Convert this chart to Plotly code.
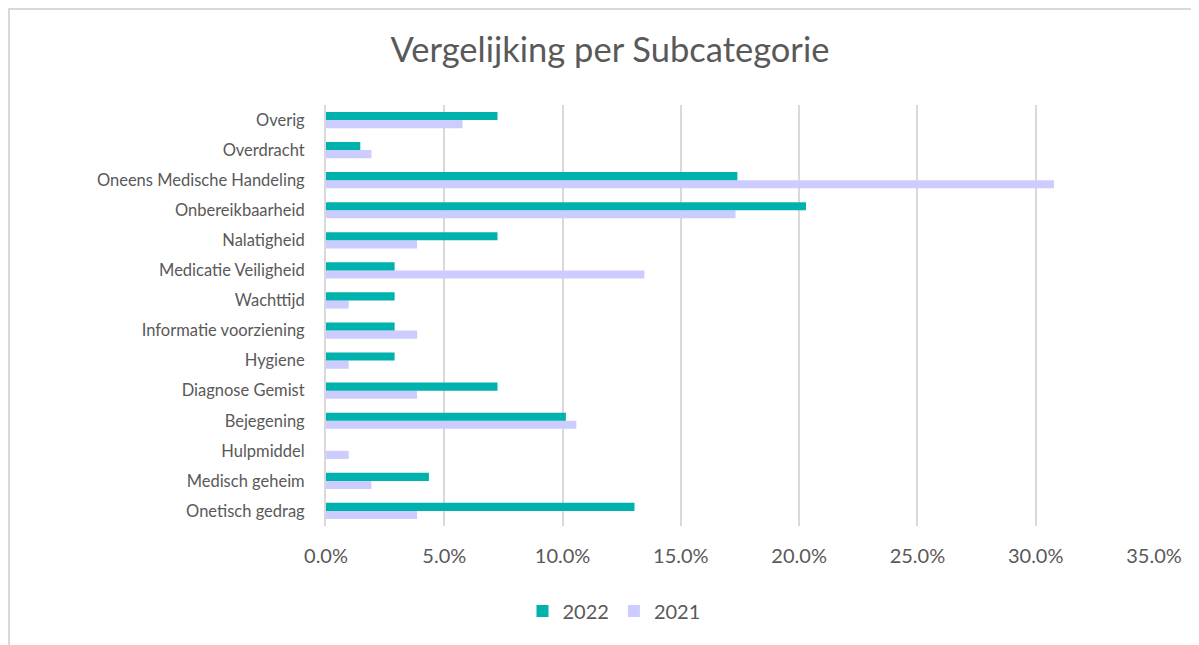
import plotly.graph_objects as go

# Categories listed bottom-to-top (as drawn on the chart)
categories = [
    "Onetisch gedrag", "Medisch geheim", "Hulpmiddel", "Bejegening",
    "Diagnose Gemist", "Hygiene", "Informatie voorziening", "Wachttijd",
    "Medicatie Veiligheid", "Nalatigheid", "Onbereikbaarheid",
    "Oneens Medische Handeling", "Overdracht", "Overig",
]
values_2022 = [13.04, 4.35, 0.0, 10.14, 7.25, 2.90, 2.90, 2.90, 2.90, 7.25, 20.29, 17.39, 1.45, 7.25]
values_2021 = [3.85, 1.92, 0.96, 10.58, 3.85, 0.96, 3.85, 0.96, 13.46, 3.85, 17.31, 30.77, 1.92, 5.77]
x_ticks = [0, 5, 10, 15, 20, 25, 30, 35]
x_tick_labels = [f"{v:.1f}%" for v in x_ticks]

FONT = "Lato, 'Open Sans', sans-serif"
GREY = "#595959"

fig = go.Figure()
fig.add_trace(go.Bar(y=categories, x=values_2021, name="2021", orientation="h",
                     marker=dict(color="#CCCCFF", line=dict(width=0))))
fig.add_trace(go.Bar(y=categories, x=values_2022, name="2022", orientation="h",
                     marker=dict(color="#00B2AE", line=dict(width=0))))

OFF = 8  # page offset of the rendered figure (body margin)
W, H = 1199 - OFF, 645 - OFF
pw, ph = 828, 421
L, T = 326 - OFF, 105 - OFF
R = W - L - pw
B = H - T - ph

def px(xpix):
    return (xpix - OFF - L) / pw

def py(ypix):
    return (H - B - (ypix - OFF)) / ph

fig.update_layout(
    width=W, height=H,
    margin=dict(l=L, r=R, t=T, b=B),
    paper_bgcolor="white", plot_bgcolor="white",
    barmode="group", bargap=0.46, bargroupgap=0,
    font=dict(family=FONT, size=16, color=GREY),
    title=dict(text="Vergelijking per Subcategorie", x=(610 - OFF) / W, xanchor="center",
               y=1 - (50 - OFF) / H, yanchor="middle", xref="container", yref="container",
               font=dict(family=FONT, size=34.5, color=GREY)),
    legend=dict(orientation="h", x=px(614), xanchor="center", y=py(611), yanchor="middle",
                traceorder="reversed", font=dict(size=20, color=GREY), itemwidth=30),
    xaxis=dict(range=[0, 35], tickmode="array", tickvals=x_ticks, ticktext=x_tick_labels,
               showgrid=True, gridcolor="#D9D9D9", gridwidth=2, zeroline=False,
               showline=False, ticks="", ticklabelstandoff=16,
               tickfont=dict(size=20, color=GREY)),
    yaxis=dict(showgrid=False, zeroline=False, showline=True, linecolor="#D9D9D9",
               linewidth=2, ticks="", ticklabelstandoff=16,
               tickfont=dict(size=16.5, color=GREY),
               categoryorder="array", categoryarray=categories),
    shapes=[dict(type="rect", xref="paper", yref="paper",
                 x0=px(9), x1=px(1260), y0=py(720), y1=py(9),
                 line=dict(color="#D9D9D9", width=2), layer="below")],
)

fig.write_html("out.html")
